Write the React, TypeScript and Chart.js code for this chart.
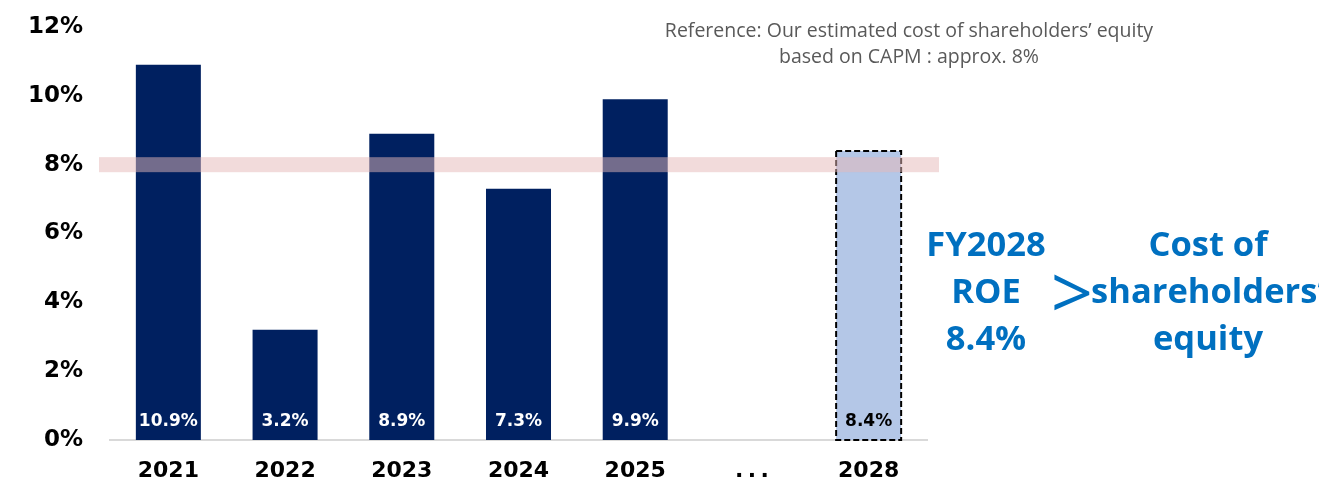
import React, { useEffect, useRef } from 'react';
import { Chart, registerables } from 'chart.js';

Chart.register(...registerables);

const categories = ['2021', '2022', '2023', '2024', '2025', '.\u2009.\u2009.', '2028'];
const roeValues: (number | null)[] = [10.9, 3.2, 8.9, 7.3, 9.9, null, 8.4];
const forecastIndex = 6;
const costOfEquity = 8;
const yMin = 0;
const yMax = 12;
const yStep = 2;
const noteLines = ['Reference: Our estimated cost of shareholders’ equity', 'based on CAPM : approx. 8%'];
const leftMessage = ['FY2028', 'ROE', '8.4%'];
const rightMessage = ['Cost of', 'shareholders’', 'equity'];
const compareSign = '>';

const NAVY = '#002060';
const LIGHT = '#b4c7e7';
const AXIS_FONT = 'DejaVu Sans';

const overlayPlugin = {
  id: 'roeOverlay',
  afterDatasetsDraw(chart: any) {
    const ctx = chart.ctx;
    const meta = chart.getDatasetMeta(0);
    const yScale = chart.scales.y;
    const area = chart.chartArea;

    // dashed outline of forecast bar
    const fb = meta.data[forecastIndex];
    if (fb) {
      const p = fb.getProps(['x', 'y', 'base', 'width'], true);
      ctx.save();
      ctx.setLineDash([6, 3]);
      ctx.lineWidth = 2;
      ctx.strokeStyle = '#000';
      ctx.strokeRect(p.x - p.width / 2, p.y, p.width, p.base - p.y);
      ctx.restore();
    }

    // cost-of-equity band
    const yc = yScale.getPixelForValue(costOfEquity);
    ctx.save();
    ctx.fillStyle = 'rgba(230,184,184,0.5)';
    ctx.fillRect(area.left - 11, yc - 7.5, area.right - area.left + 23, 15);
    ctx.restore();

    // value labels
    ctx.save();
    ctx.font = `bold 17px "${AXIS_FONT}"`;
    ctx.textAlign = 'center';
    ctx.textBaseline = 'middle';
    meta.data.forEach((el: any, i: number) => {
      const v = roeValues[i];
      if (v == null) return;
      const p = el.getProps(['x', 'base'], true);
      ctx.fillStyle = i === forecastIndex ? '#000' : '#fff';
      ctx.fillText(`${v.toFixed(1)}%`, p.x, p.base - 18);
    });
    ctx.restore();
  },
};

export default function App() {
  const canvasRef = useRef<HTMLCanvasElement | null>(null);

  useEffect(() => {
    if (!canvasRef.current) return;
    const chart = new Chart(canvasRef.current, {
      type: 'bar',
      data: {
        labels: categories,
        datasets: [
          {
            data: roeValues,
            backgroundColor: roeValues.map((_, i) => (i === forecastIndex ? LIGHT : NAVY)),
            borderWidth: 0,
            barPercentage: 0.557,
            categoryPercentage: 1,
          },
        ],
      },
      options: {
        animation: false,
        responsive: false,
        maintainAspectRatio: false,
        layout: { padding: { left: 0, top: 27, right: 392, bottom: 0 } },
        plugins: {
          legend: { display: false },
          tooltip: { enabled: false },
        },
        scales: {
          x: {
            grid: { display: false, drawTicks: false },
            border: { display: true, color: '#d9d9d9', width: 2 },
            ticks: {
              color: '#000',
              padding: 18,
              font: { family: AXIS_FONT, size: 22, weight: 'bold' },
            },
            afterFit(s: any) {
              s.height = 50;
              s.paddingLeft = 0;
              s.paddingRight = 0;
            },
          },
          y: {
            min: yMin,
            max: yMax,
            grid: { display: false, drawTicks: false },
            border: { display: false },
            ticks: {
              stepSize: yStep,
              color: '#000',
              padding: 27,
              font: { family: AXIS_FONT, size: 23, weight: 'bold' },
              callback: (v: any) => `${v}%`,
            },
            afterFit(s: any) {
              s.width = 110;
              s.paddingTop = 0;
              s.paddingBottom = 0;
            },
          },
        },
      },
      plugins: [overlayPlugin],
    });
    return () => chart.destroy();
  }, []);

  const blue = '#0070c0';
  const msgFont: React.CSSProperties = {
    position: 'absolute',
    fontFamily: '"Open Sans", sans-serif',
    fontWeight: 700,
    fontSize: 34.5,
    lineHeight: '47px',
    color: blue,
    textAlign: 'center',
    whiteSpace: 'nowrap',
  };

  return (
    <div
      style={{
        position: 'fixed',
        left: 0,
        top: 0,
        width: 1319,
        height: 490,
        overflow: 'hidden',
        background: '#fff',
      }}
    >
      <canvas ref={canvasRef} width={1319} height={490} style={{ display: 'block' }} />
      <div
        style={{
          position: 'absolute',
          left: 509,
          top: 17,
          width: 800,
          textAlign: 'center',
          fontFamily: '"Open Sans", sans-serif',
          fontSize: 19.5,
          lineHeight: '26px',
          color: '#595959',
          whiteSpace: 'nowrap',
        }}
      >
        {noteLines.map((l) => (
          <div key={l}>{l}</div>
        ))}
      </div>
      <div style={{ ...msgFont, left: 886, top: 219, width: 200 }}>
        {leftMessage.map((l) => (
          <div key={l}>{l}</div>
        ))}
      </div>
      <div
        style={{
          position: 'absolute',
          left: 1037,
          top: 249,
          width: 70,
          textAlign: 'center',
          fontFamily: '"Open Sans", sans-serif',
          fontWeight: 400,
          fontSize: 74,
          lineHeight: '84px',
          color: blue,
        }}
      >
        {compareSign}
      </div>
      <div style={{ ...msgFont, left: 1058, top: 219, width: 300 }}>
        {rightMessage.map((l) => (
          <div key={l}>{l}</div>
        ))}
      </div>
    </div>
  );
}
